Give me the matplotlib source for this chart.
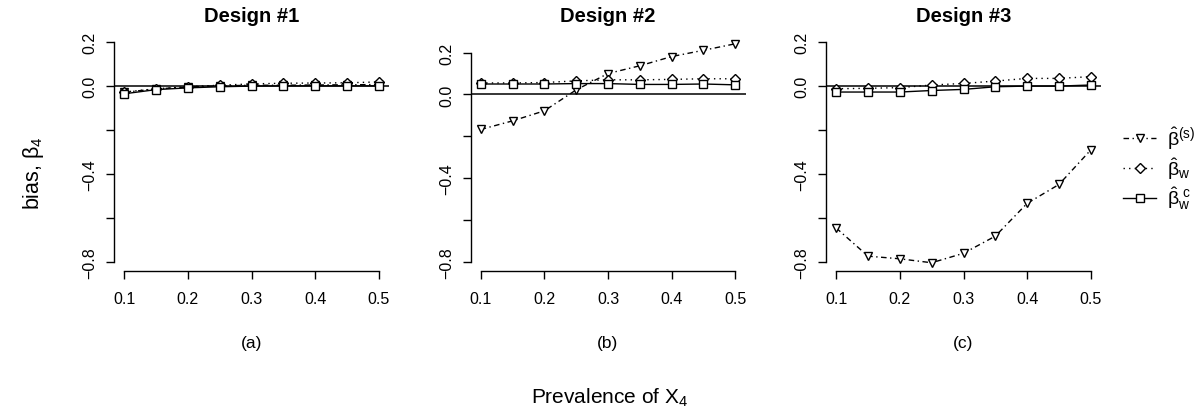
import numpy as np
import matplotlib
matplotlib.use("Agg")
import matplotlib.pyplot as plt
from matplotlib.lines import Line2D

plt.rcParams['font.family'] = ['Liberation Sans', 'DejaVu Sans']
plt.rcParams['mathtext.fontset'] = 'custom'
plt.rcParams['mathtext.rm'] = 'Liberation Sans'
plt.rcParams['mathtext.it'] = 'Liberation Sans:italic'
plt.rcParams['mathtext.default'] = 'regular'

# prevalence of X4
prev = [0.10, 0.15, 0.20, 0.25, 0.30, 0.35, 0.40, 0.45, 0.50]

# bias of beta4 for the three estimators, one list per design
d1_s = [-0.028, -0.013, -0.004, 0.001, 0.004, 0.004, 0.005, 0.006, 0.007]
d1_w = [-0.027, -0.012, -0.003, 0.004, 0.010, 0.013, 0.014, 0.015, 0.019]
d1_wc = [-0.035, -0.016, -0.008, -0.003, 0.000, 0.001, 0.001, 0.001, 0.001]

d2_s = [-0.167, -0.126, -0.078, 0.022, 0.100, 0.137, 0.181, 0.211, 0.242]
d2_w = [0.055, 0.055, 0.057, 0.065, 0.070, 0.070, 0.072, 0.075, 0.075]
d2_wc = [0.050, 0.050, 0.050, 0.052, 0.052, 0.048, 0.048, 0.050, 0.046]

d3_s = [-0.645, -0.773, -0.785, -0.803, -0.760, -0.682, -0.533, -0.447, -0.290]
d3_w = [-0.012, -0.010, -0.007, 0.005, 0.012, 0.023, 0.035, 0.035, 0.043]
d3_wc = [-0.027, -0.027, -0.027, -0.020, -0.015, -0.003, 0.000, 0.000, 0.005]

titles = ['Design #1', 'Design #2', 'Design #3']
sublabels = ['(a)', '(b)', '(c)']
ylims = [(-0.8, 0.2), (-0.8, 0.25), (-0.8, 0.2)]
yticks = [-0.8, -0.6, -0.4, -0.2, 0.0, 0.2]
ytick_labels = ['\u22120.8', '', '\u22120.4', '', '0.0', '0.2']
xticks = [0.1, 0.2, 0.3, 0.4, 0.5]

designs = [(d1_s, d1_w, d1_wc), (d2_s, d2_w, d2_wc), (d3_s, d3_w, d3_wc)]

W, H = 1200, 414
fig = plt.figure(figsize=(W / 100, H / 100), dpi=100)

lw = 1.0
sty_s = dict(color='black', lw=lw, dashes=(4, 2.5, 1, 2.5), marker='v', ms=6,
             mfc='white', mec='black', mew=1.0)
sty_w = dict(color='black', lw=lw, dashes=(1, 3), marker='D', ms=5,
             mfc='white', mec='black', mew=1.0)
sty_wc = dict(color='black', lw=lw, ls='-', marker='s', ms=5.5,
              mfc='white', mec='black', mew=1.0)

lefts = [114, 470.5, 826]
top, height, width = 34.3, 237.6, 275.0

for i, (bs, bw, bwc) in enumerate(designs):
    ax = fig.add_axes([lefts[i] / W, 1 - (top + height) / H, width / W, height / H])
    lo, hi = ylims[i]
    pad = 0.04 * (hi - lo)
    ax.set_xlim(0.1 - 0.016, 0.5 + 0.016)
    ax.set_ylim(lo - pad, hi + pad)

    ax.axhline(0, color='black', lw=1.1, zorder=1)
    ax.plot(prev, bs, zorder=3, **sty_s)
    ax.plot(prev, bw, zorder=3, **sty_w)
    ax.plot(prev, bwc, zorder=3, **sty_wc)

    for s in ['top', 'right']:
        ax.spines[s].set_visible(False)
    ax.spines['left'].set_bounds(-0.8, 0.2)
    ax.spines['bottom'].set_bounds(0.1, 0.5)
    ax.spines['left'].set_linewidth(1.0)
    ax.spines['bottom'].set_linewidth(1.0)

    ax.set_yticks(yticks)
    ax.set_yticklabels(ytick_labels, rotation=90, va='center', fontsize=11.5)
    ax.set_xticks(xticks)
    ax.set_xticklabels(['0.1', '0.2', '0.3', '0.4', '0.5'], fontsize=11.5)
    ax.tick_params(length=5.8, width=1.0, pad=4)
    ax.tick_params(axis='x', pad=9)
    ax.tick_params(axis='y', pad=6)

    cx = (lefts[i] + width / 2) / W
    fig.text(cx, 1 - 16 / H, titles[i], ha='center', va='center',
             fontsize=14.5, fontweight='bold')
    fig.text(cx, 1 - 344 / H, sublabels[i], ha='center', va='center', fontsize=12.5)

fig.text(33 / W, 1 - 173 / H, 'bias, \u03b2$_4$', rotation=90, ha='center',
         va='center', fontsize=15.5)
fig.text(610 / W, 1 - 398 / H, 'Prevalence of X$_4$', ha='center', va='center',
         fontsize=15)

handles = [Line2D([], [], **sty_s), Line2D([], [], **sty_w), Line2D([], [], **sty_wc)]
labels = [r'$\hat{\beta}^{(s)}$', r'$\hat{\beta}_{w}$', r'$\hat{\beta}_{w}^{\ c}$']
fig.legend(handles, labels, loc='center left', bbox_to_anchor=(1123 / W, 1 - 169 / H),
           frameon=False, fontsize=14, handlelength=1.7, handletextpad=0.55,
           borderpad=0, borderaxespad=0, labelspacing=0.2)

fig.savefig('out.png', dpi=100)
